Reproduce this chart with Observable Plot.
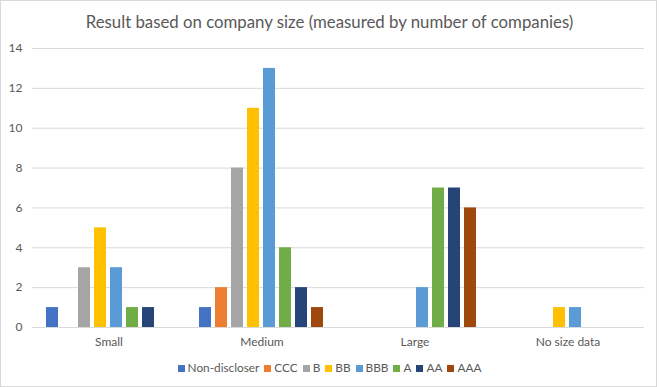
<!DOCTYPE html>
<html><head><meta charset="utf-8">
<script src="https://cdn.jsdelivr.net/npm/d3@7"></script>
<script src="https://cdn.jsdelivr.net/npm/@observablehq/plot@0.6"></script>
<style>
body{margin:0;background:#fff;font-family:Lato,sans-serif;}
#frame{position:relative;width:659px;height:387px;overflow:hidden;background:#fff;}
#border{position:absolute;left:0;top:0;width:655px;height:385px;border:1px solid #d9d9d9;pointer-events:none;}
#title{position:absolute;left:0;top:12px;width:659px;text-align:center;font-size:16.8px;line-height:20px;color:#595959;}
#chart{position:absolute;left:0;top:38px;}
#legend{position:absolute;top:361px;left:0;width:659px;display:flex;justify-content:center;font-size:11.8px;line-height:14px;color:#595959;}
.item{display:flex;align-items:center;margin:0 2.5px;}
.sw{width:7px;height:7px;margin-right:3px;}
</style></head>
<body>
<div id="frame">
  <div id="title">Result based on company size (measured by number of companies)</div>
  <div id="chart"></div>
  <div id="legend"></div>
  <div id="border"></div>
</div>
<script>
const categories = ["Small", "Medium", "Large", "No size data"];
const series = ["Non-discloser", "CCC", "B", "BB", "BBB", "A", "AA", "AAA"];
const colors = ["#4472C4", "#ED7D31", "#A5A5A5", "#FFC000", "#5B9BD5", "#70AD47", "#264478", "#9E480E"];
const small = [1, 0, 3, 5, 3, 1, 1, 0];
const medium = [1, 2, 8, 11, 13, 4, 2, 1];
const large = [0, 0, 0, 0, 2, 7, 7, 6];
const noSize = [0, 0, 0, 1, 1, 0, 0, 0];
const yTicks = [0, 2, 4, 6, 8, 10, 12, 14];

const valuesByCat = [small, medium, large, noSize];
const data = [];
categories.forEach((c, i) => {
  series.forEach((s, j) => {
    const v = valuesByCat[i][j];
    if (v > 0) data.push({category: c, series: s, value: v});
  });
});

const chart = Plot.plot({
  width: 659,
  height: 314,
  marginTop: 10,
  marginBottom: 25,
  marginLeft: 31,
  marginRight: 15,
  style: {fontFamily: "Lato, sans-serif", fontSize: "12px", color: "#595959", background: "transparent"},
  fx: {domain: categories, padding: 0, label: null, axis: "bottom", tickSize: 0, tickPadding: 10},
  x: {domain: series, paddingInner: 0.22, paddingOuter: 0.8, axis: null},
  y: {domain: [0, 14], ticks: yTicks, tickSize: 0, tickPadding: 10, label: null},
  color: {domain: series, range: colors},
  marks: [
    Plot.gridY(yTicks, {stroke: "#d9d9d9", strokeOpacity: 1}),
    Plot.barY(data, {fx: "category", x: "series", y: "value", fill: "series"}),
    Plot.ruleY([0], {stroke: "#d9d9d9"})
  ]
});
document.getElementById("chart").appendChild(chart);

const legend = document.getElementById("legend");
series.forEach((s, j) => {
  const it = document.createElement("div");
  it.className = "item";
  const sw = document.createElement("div");
  sw.className = "sw";
  sw.style.background = colors[j];
  const t = document.createElement("span");
  t.textContent = s;
  it.appendChild(sw);
  it.appendChild(t);
  legend.appendChild(it);
});
</script>
</body></html>
